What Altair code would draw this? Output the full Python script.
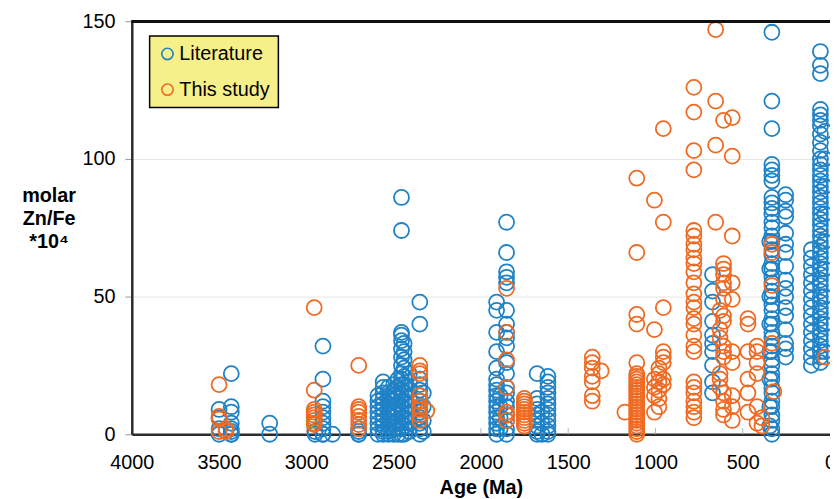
import altair as alt
import pandas as pd

# ---- data (age in Ma, molar Zn/Fe * 10^4) ----
literature = [
    (3500, [9, 6, 2, 0]),
    (3430, [22, 10, 8, 4, 2, 1, 0, 0]),
    (3210, [4, 0]),
    (2950, [1, 0]),
    (2905, [32, 20, 12, 10, 8, 6, 4, 2, 0, 0]),
    (2850, [0]),
    (2700, [2, 1, 0, 0]),
    (2590, [14, 12, 10, 8, 6, 4, 2, 0]),
    (2560, [19, 17, 15, 13, 11, 9, 7, 5, 3, 1, 0]),
    (2530, [17, 15, 13, 11, 9, 7, 5, 3, 1, 0]),
    (2500, [18, 16, 14, 12, 10, 8, 6, 4, 2, 0]),
    (2475, [20, 17, 14, 11, 8, 5, 2, 0]),
    (2455, [86, 74, 37, 36, 34, 31, 28, 25, 22, 20, 18, 16, 14, 12, 10, 8, 6, 4, 2, 0]),
    (2440, [33, 30, 27, 24, 21, 18, 15, 12, 9, 6, 3, 0]),
    (2410, [22, 19, 16, 13, 10, 7, 4, 1]),
    (2350, [48, 40, 20, 18, 16, 14, 12, 10, 8, 6, 4, 2, 0]),
    (2330, [15, 10, 5, 1]),
    (1910, [48, 45, 37, 30, 24, 20, 18, 16, 14, 12, 10, 8, 6, 4, 2, 0]),
    (1890, [14, 10, 6, 2]),
    (1853, [77, 66, 59, 57, 55, 45, 40, 37, 35, 32, 26, 22, 17, 15, 12, 10, 7, 5, 2, 0]),
    (1678, [22, 13, 11, 9, 7, 5, 3, 1, 0]),
    (1650, [8, 4, 0]),
    (1616, [21, 19, 17, 15, 13, 11, 9, 7, 5, 3, 1, 0]),
    (673, [58, 52, 48, 41, 36, 33, 30, 25, 19, 15]),
    (345, [70, 60, 50, 40, 30, 20, 10, 3]),
    (333, [146, 121, 111, 98, 96, 94, 92, 86, 84, 82, 80, 77, 75, 72, 70, 67, 65, 62,
           60, 57, 55, 52, 50, 47, 45, 42, 40, 37, 35, 32, 30, 27, 25, 22, 20, 17, 15,
           12, 10, 7, 5, 2, 0]),
    (254, [87, 85, 81, 79, 73, 69, 66, 61, 56, 53, 50, 46, 43, 38, 33, 31, 28]),
    (107, [67, 64, 61, 58, 55, 52, 49, 46, 43, 40, 37, 34, 31, 28, 25]),
    (55, [139, 134, 131, 118, 116, 114, 112, 109, 106, 103, 100, 98, 96, 94, 92, 90,
          88, 86, 84, 82, 80, 78, 76, 74, 72, 70, 68, 66, 64, 62, 60, 58, 56, 54, 52,
          50, 48, 46, 44, 42, 40, 38, 36, 34, 32, 30, 28, 26]),
    (30, [110, 100, 90, 80, 70, 60, 50, 40, 30]),
]

this_study = [
    (3500, [18, 6.5, 5.5, 1]),
    (3460, [2, 1]),
    (2955, [46, 16, 9, 8, 7, 6, 5, 4, 3.5]),
    (2700, [25, 10, 9, 8, 6.5, 5, 3.5, 2]),
    (2350, [25, 23, 22, 14, 12, 10, 9, 7, 5]),
    (2310, [8.5]),
    (1853, [53, 37, 27, 17, 8, 7, 5]),
    (1751, [13, 12, 11, 10, 9, 8, 7, 6, 5, 4, 3]),
    (1362, [28, 26, 24, 21, 19, 14, 12]),
    (1311, [23]),
    (1175, [8]),
    (1107, [93, 66, 43.5, 40, 26, 22, 21, 20, 19, 18, 17, 16, 15, 14, 13, 12, 11, 10,
            9, 8, 7, 6, 5, 4, 3, 2, 1, 0]),
    (1006, [85, 38, 20, 17, 14, 8]),
    (980, [24, 22, 19, 16, 13, 10]),
    (955, [111, 77, 46, 30, 28, 26, 20, 18]),
    (780, [126, 117, 103, 96, 74, 72, 69, 67, 64, 62, 59, 55, 51, 48, 46, 42, 40, 36,
           32, 30, 19, 17, 15, 12, 10, 8, 6]),
    (655, [147, 121, 105, 77]),
    (630, [45, 38, 35, 22, 20, 17]),
    (610, [114, 62, 60, 58, 55, 53, 49, 43, 41, 32, 30, 28, 15, 12, 9, 7]),
    (560, [115, 101, 72, 55, 49, 30, 26, 14, 10, 5]),
    (470, [42, 40, 30, 20, 15, 8]),
    (418, [32, 30, 26, 22, 10, 4]),
    (390, [6, 3]),
    (333, [69, 66, 54, 33]),
    (322, [15.5]),
    (28, [28]),
]

series_names = ["Literature", "This study"]
x_ticks = [4000, 3500, 3000, 2500, 2000, 1500, 1000, 500, 0]
inner_ticks = [3500, 3000, 2500, 2000, 1500, 1000, 500]
y_ticks = [0, 50, 100, 150]

BLUE = "#1f82c6"
ORANGE = "#ef6a22"
FONT = "Liberation Sans"

rows = []
for name, groups in zip(series_names, [literature, this_study]):
    for age, vals in groups:
        for v in vals:
            rows.append({"age": age, "value": v, "series": name})
df = pd.DataFrame(rows)
ticks_df = pd.DataFrame({"age": inner_ticks})

x_scale = alt.Scale(domain=[0, 4000], reverse=True, nice=False)
y_scale = alt.Scale(domain=[0, 150], nice=False)

points = alt.Chart(df).mark_point(
    shape="circle", filled=False, size=230, strokeWidth=1.8, opacity=1
).encode(
    x=alt.X("age:Q", scale=x_scale, axis=alt.Axis(
        values=x_ticks, format="d", title="Age (Ma)", grid=False, tickSize=0,
        labelPadding=19, labelFontSize=20, labelFont=FONT, labelColor="#000",
        titleFont=FONT, titleFontSize=20, titleFontWeight="bold", titleColor="#000",
        titlePadding=5, domainColor="#2b2b2b", domainWidth=2.5, labelFlush=False)),
    y=alt.Y("value:Q", scale=y_scale, axis=alt.Axis(
        values=y_ticks, format="d", title=["molar", "Zn/Fe", "*10\u2074"], grid=True,
        gridColor="#e4e4e4", gridWidth=1, tickSize=7, tickColor="#999999",
        labelPadding=10, labelFontSize=20, labelFont=FONT, labelColor="#000",
        titleFont=FONT, titleFontSize=20, titleFontWeight="bold", titleColor="#000",
        titleAngle=0, titleAlign="center", titleBaseline="alphabetic",
        titleX=-84, titleY=182, titleLineHeight=23,
        domainColor="#2b2b2b", domainWidth=2.5)),
    color=alt.Color("series:N", scale=alt.Scale(domain=series_names, range=[BLUE, ORANGE]),
                    legend=alt.Legend(
                        title=None, orient="none", legendX=18, legendY=15,
                        fillColor="#f6f08a", strokeColor="#000",
                        padding=8, rowPadding=16, labelFont=FONT, labelFontSize=20,
                        labelColor="#000", symbolType="circle", symbolSize=130,
                        symbolStrokeWidth=1.6, symbolFillColor="transparent",
                        labelOffset=2)),
)

inner = alt.Chart(ticks_df).mark_rule(color="#b0b0b0", strokeWidth=1).encode(
    x=alt.X("age:Q", scale=x_scale),
    y=alt.datum(0, scale=y_scale),
    y2=alt.datum(2.2),
)

top_line = alt.Chart(ticks_df).mark_rule(color="#111111", strokeWidth=2.5).encode(
    y=alt.datum(150, scale=y_scale),
)

chart = alt.layer(inner, points, top_line).properties(
    width=705, height=417,
    autosize=alt.AutoSizeParams(type="none"),
    padding={"left": 125, "top": 11, "right": 0, "bottom": 62},
    background="white",
).configure_view(stroke=None).configure_legend(strokeWidth=1.5)

chart.save("out.html", embed_options={"renderer": "svg", "actions": False})
